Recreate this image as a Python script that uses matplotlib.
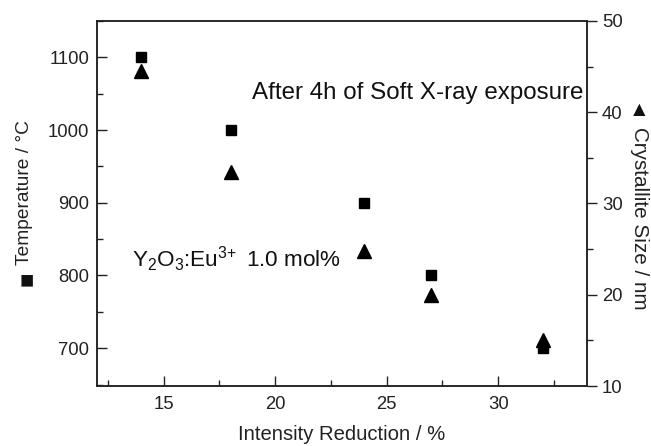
import matplotlib
matplotlib.use("Agg")
import matplotlib.pyplot as plt
from matplotlib.ticker import MultipleLocator

plt.rcParams["font.family"] = ["Liberation Sans", "DejaVu Sans"]
plt.rcParams["mathtext.default"] = "regular"

# Data
reduction = [14, 18, 24, 27, 32]          # Intensity Reduction / %
temperature = [1100, 1000, 900, 800, 700]  # Temperature / C
size_nm = [44.5, 33.5, 24.8, 20.0, 15.0]   # Crystallite Size / nm

fig = plt.figure(figsize=(6.51, 4.46), dpi=100)
ax = fig.add_axes([0.1486, 0.1345, 0.7536, 0.8185])
ax2 = ax.twinx()

ax.plot(reduction, temperature, "s", color="black", markersize=7.5, zorder=3)
ax2.plot(reduction, size_nm, "^", color="black", markersize=9.5, zorder=3)

ax.set_xlim(12, 34)
ax.set_ylim(648, 1150)
ax2.set_ylim(10, 50)

ax.xaxis.set_major_locator(MultipleLocator(5))
ax.xaxis.set_minor_locator(MultipleLocator(2.5))
ax.yaxis.set_major_locator(MultipleLocator(100))
ax.yaxis.set_minor_locator(MultipleLocator(50))
ax2.yaxis.set_major_locator(MultipleLocator(10))
ax2.yaxis.set_minor_locator(MultipleLocator(5))

ax.tick_params(which="both", direction="in", top=False, right=False,
               labelsize=13.3, width=1, colors="#222222", labelcolor="#222222")
ax.tick_params(which="major", length=7)
ax.tick_params(which="minor", length=4)
ax.tick_params(axis="y", which="major", pad=5.5)
ax.tick_params(axis="x", which="major", pad=7)
ax2.tick_params(which="both", direction="out", labelsize=13.3, width=1,
                colors="#222222", labelcolor="#222222")
ax2.tick_params(which="major", length=7)
ax2.tick_params(which="minor", length=4)

for a in (ax, ax2):
    for sp in a.spines.values():
        sp.set_linewidth(1.1)
        sp.set_color("#222222")

ax.text(0.991, 0.786, "After 4h of Soft X-ray exposure", transform=ax.transAxes,
        ha="right", va="baseline", fontsize=17.4, color="#111111")
ax.text(0.072, 0.326, r"Y$_2$O$_3$:Eu$^{3\!+}$ 1.0 mol%", transform=ax.transAxes,
        ha="left", va="baseline", fontsize=16.2, color="#111111")

fig.text(0.5246, 0.0247, "Intensity Reduction / %", ha="center", va="center",
         fontsize=14.6, color="#222222")
fig.text(0.038, 0.569, "Temperature / °C", rotation=90, ha="center",
         va="center", fontsize=13.8, color="#222222")
fig.text(0.041, 0.37, "■", ha="center", va="center",
         fontsize=17, color="#111111")
fig.text(0.983, 0.51, "Crystallite Size / nm", rotation=270, ha="center",
         va="center", fontsize=14.9, color="#222222")
fig.text(0.982, 0.753, "▲", ha="center", va="center",
         fontsize=15, color="#111111")

fig.savefig("out.png", dpi=100)
